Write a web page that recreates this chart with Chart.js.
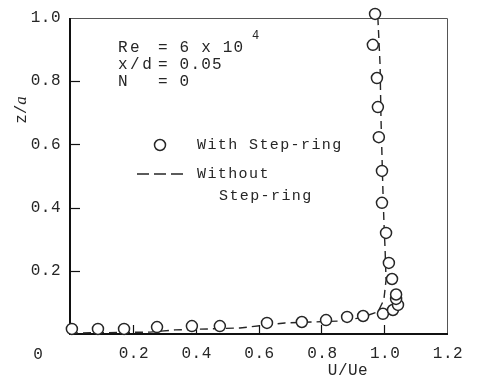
<!DOCTYPE html>
<html>
<head>
<meta charset="utf-8">
<script src="https://cdn.jsdelivr.net/npm/chart.js@4/dist/chart.umd.min.js"></script>
<style>
    html, body { margin: 0; padding: 0; background: #fff; }
    canvas { display: block; }
</style>
</head>
<body>
<canvas id="chart" width="477" height="381"></canvas>
<script>
// Velocity profile near the wall, U/Ue against z/a.
const withRingU = [0.006, 0.089, 0.172, 0.277, 0.388, 0.477, 0.627, 0.738, 0.815, 0.882, 0.933, 0.996,
    1.028, 1.044, 1.038, 1.038, 1.025, 1.015, 1.006, 0.993, 0.993, 0.983, 0.980, 0.977, 0.964, 0.971];
const withRingZ = [0.016, 0.016, 0.016, 0.022, 0.025, 0.025, 0.035, 0.038, 0.044, 0.054, 0.057, 0.064,
    0.076, 0.092, 0.111, 0.125, 0.174, 0.225, 0.320, 0.415, 0.516, 0.623, 0.718, 0.810, 0.915, 1.013];

const withoutRingU = [0.0, 0.255, 0.334, 0.541, 0.684, 0.859, 0.923, 0.980, 0.999, 1.006, 1.003, 0.999, 0.996, 0.990, 0.987, 0.980];
const withoutRingZ = [0.003, 0.006, 0.013, 0.019, 0.035, 0.041, 0.051, 0.070, 0.108, 0.171, 0.266, 0.361, 0.456, 0.677, 0.851, 1.0];

const xTicks = [0.2, 0.4, 0.6, 0.8, 1.0, 1.2];
const yTicks = [0.2, 0.4, 0.6, 0.8, 1.0];
const xTickLabels = ['0.2', '0.4', '0.6', '0.8', '1.0', '1.2'];
const yTickLabels = ['0.2', '0.4', '0.6', '0.8', '1.0'];

const INK = '#262626';
const MONO = '"Liberation Mono", "DejaVu Sans Mono", monospace';

function toPoints(xs, ys) {
    return xs.map((x, i) => ({ x: x, y: ys[i] }));
}

function drawText(ctx, text, x, y, size, spacing) {
    ctx.font = `${size}px ${MONO}`;
    ctx.letterSpacing = `${spacing}px`;
    ctx.fillText(text, x, y);
    ctx.letterSpacing = '0px';
}

// Frame and inward tick marks, drawn under the data.
const framePlugin = {
    id: 'frame',
    beforeDatasetsDraw(chart) {
        const { ctx, chartArea: a, scales } = chart;
        ctx.save();
        ctx.strokeStyle = INK;

        ctx.lineWidth = 1;
        ctx.strokeStyle = '#555';
        ctx.beginPath();
        ctx.moveTo(a.left, a.top + 0.5);
        ctx.lineTo(a.right + 0.5, a.top + 0.5);
        ctx.lineTo(a.right + 0.5, a.bottom);
        ctx.stroke();

        ctx.strokeStyle = '#111';
        ctx.lineWidth = 2;
        ctx.beginPath();
        ctx.moveTo(a.left, a.top);
        ctx.lineTo(a.left, a.bottom);
        ctx.lineTo(a.right + 1, a.bottom);
        ctx.stroke();

        ctx.lineWidth = 1.2;
        yTicks.slice(0, -1).forEach((v) => {
            const y = Math.round(scales.y.getPixelForValue(v)) + 0.5;
            ctx.beginPath();
            ctx.moveTo(a.left, y);
            ctx.lineTo(a.left + 10, y);
            ctx.stroke();
        });
        xTicks.slice(0, -1).forEach((v) => {
            const x = Math.round(scales.x.getPixelForValue(v)) + 0.5;
            ctx.beginPath();
            ctx.moveTo(x, a.bottom);
            ctx.lineTo(x, a.bottom - 9);
            ctx.stroke();
        });
        ctx.restore();
    }
};

// Tick labels, axis titles and the key.
const labelPlugin = {
    id: 'labels',
    afterDraw(chart) {
        const { ctx, chartArea: a, scales } = chart;
        ctx.save();
        ctx.fillStyle = INK;
        ctx.textBaseline = 'middle';

        ctx.textAlign = 'right';
        yTicks.forEach((v, i) => {
            drawText(ctx, yTickLabels[i], a.left - 9, scales.y.getPixelForValue(v), 16, 0.5);
        });

        ctx.textAlign = 'center';
        xTicks.forEach((v, i) => {
            drawText(ctx, xTickLabels[i], scales.x.getPixelForValue(v) + 1, a.bottom + 20, 16, 0.5);
        });
        drawText(ctx, '0', 38, a.bottom + 21, 16, 0);
        drawText(ctx, 'U/Ue', 348, a.bottom + 37, 16, 0.5);

        // y title, rotated, with an italic a
        ctx.save();
        ctx.translate(22, 110);
        ctx.rotate(-Math.PI / 2);
        ctx.textAlign = 'left';
        ctx.font = `16px ${MONO}`;
        const w1 = ctx.measureText('z/').width;
        ctx.font = `italic 17px "Liberation Serif", serif`;
        const w2 = ctx.measureText('a').width;
        const start = -(w1 + w2) / 2;
        ctx.font = `16px ${MONO}`;
        ctx.fillText('z/', start, 0);
        ctx.font = `italic 17px "Liberation Serif", serif`;
        ctx.fillText('a', start + w1, 0);
        ctx.restore();

        // conditions
        ctx.textAlign = 'left';
        drawText(ctx, 'Re', 118, 48, 16, 2.5);
        drawText(ctx, '= 6 x 10', 158, 48, 16, 1.2);
        drawText(ctx, '4', 252, 36, 12, 0);
        drawText(ctx, 'x/d', 118, 65, 16, 2.5);
        drawText(ctx, '= 0.05', 158, 65, 16, 1.2);
        drawText(ctx, 'N', 118, 82, 16, 0);
        drawText(ctx, '= 0', 158, 82, 16, 1.2);

        // key
        ctx.strokeStyle = INK;
        ctx.lineWidth = 1.5;
        ctx.fillStyle = '#fff';
        ctx.beginPath();
        ctx.arc(160, 145, 5.5, 0, Math.PI * 2);
        ctx.fill();
        ctx.stroke();
        ctx.fillStyle = INK;
        drawText(ctx, 'With Step-ring', 197, 145, 15, 1.4);

        ctx.setLineDash([12, 5]);
        ctx.beginPath();
        ctx.moveTo(137, 174);
        ctx.lineTo(187, 174);
        ctx.stroke();
        ctx.setLineDash([]);
        drawText(ctx, 'Without', 197, 174, 15, 1.4);
        drawText(ctx, 'Step-ring', 219, 196, 15, 1.4);
        ctx.restore();
    }
};

const ctx = document.getElementById('chart');

new Chart(ctx, {
    type: 'scatter',
    data: {
        datasets: [
            {
                label: 'With Step-ring',
                data: toPoints(withRingU, withRingZ),
                showLine: false,
                pointRadius: 5.5,
                pointBorderWidth: 1.5,
                pointBorderColor: INK,
                pointBackgroundColor: '#fff',
                clip: false,
                order: 0
            },
            {
                label: 'Without Step-ring',
                data: toPoints(withoutRingU, withoutRingZ),
                showLine: true,
                borderColor: INK,
                borderWidth: 1.4,
                borderDash: [8, 5],
                pointRadius: 0,
                tension: 0,
                clip: false,
                order: 1
            }
        ]
    },
    options: {
        responsive: false,
        animation: false,
        layout: {
            padding: { left: 70, top: 18, right: 30, bottom: 47 }
        },
        plugins: {
            legend: { display: false },
            tooltip: { enabled: false }
        },
        scales: {
            x: { type: 'linear', min: 0, max: 1.2, display: false },
            y: { type: 'linear', min: 0, max: 1.0, display: false }
        }
    },
    plugins: [framePlugin, labelPlugin]
});
</script>
</body>
</html>
